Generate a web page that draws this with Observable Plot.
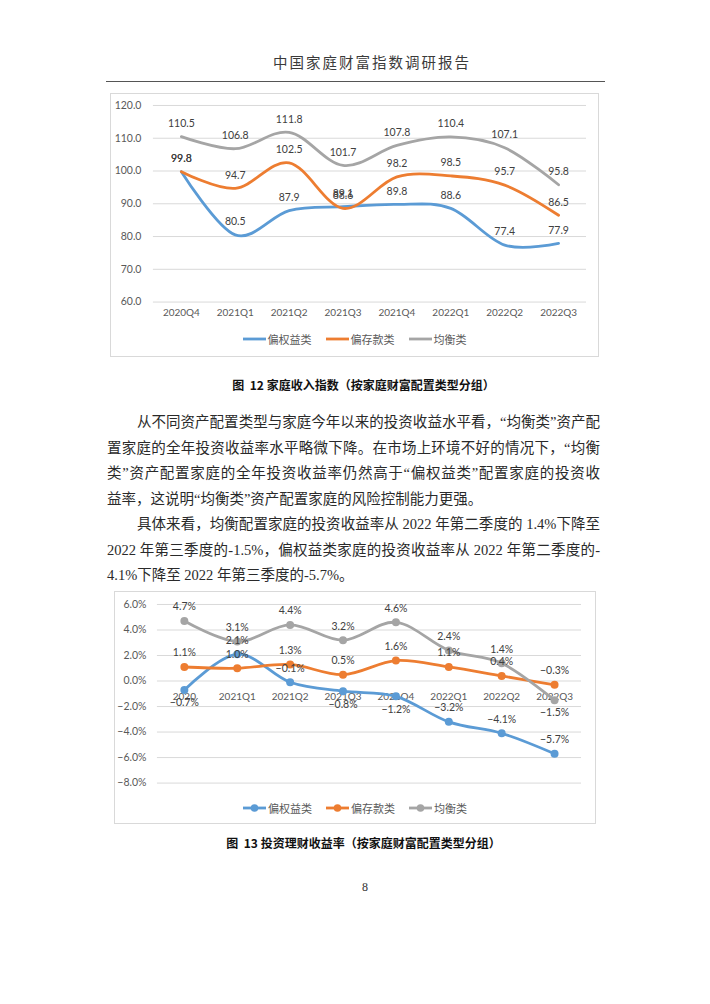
<!DOCTYPE html>
<html>
<head>
<meta charset="utf-8">
<script src="https://cdn.jsdelivr.net/npm/d3@7"></script>
<script src="https://cdn.jsdelivr.net/npm/@observablehq/plot@0.6"></script>
<style>
  html, body { margin: 0; padding: 0; background: #fff; }
  #page { position: relative; width: 710px; height: 1004px; background: #fff; overflow: hidden;
          font-family: "Noto Sans CJK SC", sans-serif; color: #222; }
  .header { position: absolute; left: 273px; top: 52px; font-size: 14.5px; letter-spacing: 2px;
            line-height: 20px; color: #3a3a3a; white-space: nowrap; }
  .rule { position: absolute; left: 106px; top: 81px; width: 499px; height: 0; border-top: 1.6px solid #555; }
  .box { position: absolute; box-sizing: border-box; border: 1px solid #d9d9d9; background: #fff; }
  .box .plot { position: absolute; left: -1px; top: -1px; }
  .legend { position: absolute; left: 0; right: 0; display: flex; justify-content: center; align-items: center;
            gap: 14px; font-size: 11px; color: #595959; line-height: 14px; }
  .legend .item { display: flex; align-items: center; gap: 2px; }
  .legend svg { display: block; }
  .caption { position: absolute; left: 0; width: 727px; text-align: center; font-size: 12px; font-weight: bold;
             color: #111; line-height: 16px; white-space: nowrap; }
  .body { position: absolute; left: 107px; top: 410px; width: 493px;
          font-family: "Liberation Serif", "Noto Sans CJK SC", serif; font-size: 14.5px; color: #2a2a2a; }
  .body div { height: 25.5px; line-height: 25.5px; white-space: nowrap; overflow: visible; }
  .body div.j { text-align: justify; text-align-last: justify; white-space: normal; }
  .body div.ind { text-indent: 30px; }
  .pageno { position: absolute; left: 0; width: 730px; top: 880px; text-align: center;
            font-family: "Liberation Serif", serif; font-size: 12px; color: #333; }
</style>
</head>
<body>
<div id="page">
  <div class="header">中国家庭财富指数调研报告</div>
  <div class="rule"></div>

  <div class="box" id="box1" style="left:110px; top:93px; width:489px; height:264px;">
    <div class="plot" id="chart1"></div>
    <div class="legend" id="legend1" style="top:238px;"></div>
  </div>
  <div class="caption" style="top:377px;">图&nbsp; 12 家庭收入指数（按家庭财富配置类型分组）</div>

  <div class="body">
    <div class="j ind">从不同资产配置类型与家庭今年以来的投资收益水平看，“均衡类”资产配</div>
    <div class="j">置家庭的全年投资收益率水平略微下降。在市场上环境不好的情况下，“均衡</div>
    <div class="j">类”资产配置家庭的全年投资收益率仍然高于“偏权益类”配置家庭的投资收</div>
    <div>益率，这说明“均衡类”资产配置家庭的风险控制能力更强。</div>
    <div class="j ind">具体来看，均衡配置家庭的投资收益率从 2022 年第二季度的 1.4%下降至</div>
    <div class="j">2022 年第三季度的-1.5%，偏权益类家庭的投资收益率从 2022 年第二季度的-</div>
    <div>4.1%下降至 2022 年第三季度的-5.7%。</div>
  </div>

  <div class="box" id="box2" style="left:114px; top:591px; width:482px; height:233px;">
    <div class="plot" id="chart2"></div>
    <div class="legend" id="legend2" style="top:209px;"></div>
  </div>
  <div class="caption" style="top:835px;">图&nbsp; 13 投资理财收益率（按家庭财富配置类型分组）</div>

  <div class="pageno">8</div>
</div>

<script>
// ---------- data ----------
const seriesNames = ["偏权益类", "偏存款类", "均衡类"];
const seriesColors = ["#5B9BD5", "#ED7D31", "#A5A5A5"];

// Figure 12: 家庭收入指数
const incomeQuarters = ["2020Q4", "2021Q1", "2021Q2", "2021Q3", "2021Q4", "2022Q1", "2022Q2", "2022Q3"];
const incomeEquity   = [99.8, 80.5, 87.9, 89.1, 89.8, 88.6, 77.4, 77.9];
const incomeDeposit  = [99.8, 94.7, 102.5, 88.6, 98.2, 98.5, 95.7, 86.5];
const incomeBalanced = [110.5, 106.8, 111.8, 101.7, 107.8, 110.4, 107.1, 95.8];
const incomeTicks    = [60, 70, 80, 90, 100, 110, 120];

// Figure 13: 投资理财收益率 (%)
const returnQuarters = ["2020", "2021Q1", "2021Q2", "2021Q3", "2021Q4", "2022Q1", "2022Q2", "2022Q3"];
const returnEquity   = [-0.7, 2.1, -0.1, -0.8, -1.2, -3.2, -4.1, -5.7];
const returnDeposit  = [1.1, 1.0, 1.3, 0.5, 1.6, 1.1, 0.4, -0.3];
const returnBalanced = [4.7, 3.1, 4.4, 3.2, 4.6, 2.4, 1.4, -1.5];
const returnTicks    = [-8, -6, -4, -2, 0, 2, 4, 6];

// ---------- helpers ----------
function rowsOf(cats, arrays) {
  return seriesNames.flatMap((s, k) => arrays[k].map((v, i) => ({s, q: cats[i], i, v})));
}
const chartFont = "Lato, 'Noto Sans CJK SC', sans-serif";
const colorScale = {domain: seriesNames, range: seriesColors};

// ---------- chart 1 ----------
const rows1 = rowsOf(incomeQuarters, [incomeEquity, incomeDeposit, incomeBalanced]);
const chart1 = Plot.plot({
  width: 489, height: 235,
  marginLeft: 43, marginRight: 12, marginTop: 12, marginBottom: 26,
  x: {type: "point", domain: incomeQuarters, padding: 0.5, axis: null},
  y: {domain: [60, 120], axis: null},
  color: colorScale,
  style: {fontFamily: chartFont, fontSize: "10px", color: "#595959", background: "none", overflow: "visible"},
  marks: [
    Plot.ruleY(incomeTicks, {stroke: "#d9d9d9", strokeWidth: 1}),
    Plot.axisY({ticks: incomeTicks, tickSize: 0, tickPadding: 12, tickFormat: d3.format(".1f"), label: null, fill: "#595959", fontSize: 10.5}),
    Plot.text(incomeQuarters, {x: d => d, frameAnchor: "bottom", dy: 14, fill: "#595959", fontSize: 10}),
    Plot.line(rows1, {x: "q", y: "v", stroke: "s", z: "s", curve: "cardinal", strokeWidth: 2.8}),
    Plot.text(rows1, {x: "q", y: "v", text: d => d3.format(".1f")(d.v), dy: -13, fill: "#404040", fontSize: 10.5})
  ]
});
document.getElementById("chart1").appendChild(chart1);

// ---------- chart 2 ----------
const rows2 = rowsOf(returnQuarters, [returnEquity, returnDeposit, returnBalanced]);
const labelsBelow = {"偏权益类": [0, 3, 4], "均衡类": [7]};
const isBelow = d => (labelsBelow[d.s] || []).includes(d.i);
const pct = d => d3.format(".1f")(d) + "%";
const chart2 = Plot.plot({
  width: 482, height: 205,
  marginLeft: 43, marginRight: 14, marginTop: 13, marginBottom: 13,
  x: {type: "point", domain: returnQuarters, padding: 0.5, axis: null},
  y: {domain: [-8, 6], axis: null},
  color: colorScale,
  style: {fontFamily: chartFont, fontSize: "10px", color: "#595959", background: "none", overflow: "visible"},
  marks: [
    Plot.ruleY(returnTicks, {stroke: "#d9d9d9", strokeWidth: 1}),
    Plot.axisY({ticks: returnTicks, tickSize: 0, tickPadding: 11, tickFormat: pct, label: null, fill: "#595959", fontSize: 10.5}),
    Plot.text(returnQuarters, {x: d => d, y: 0, dy: 16, fill: "#595959", fontSize: 10}),
    Plot.line(rows2, {x: "q", y: "v", stroke: "s", z: "s", curve: "cardinal", strokeWidth: 2.8}),
    Plot.dot(rows2, {x: "q", y: "v", fill: "s", r: 4}),
    Plot.text(rows2.filter(d => !isBelow(d)), {x: "q", y: "v", text: d => pct(d.v), dy: -14, fill: "#404040", fontSize: 10.5}),
    Plot.text(rows2.filter(isBelow), {x: "q", y: "v", text: d => pct(d.v), dy: 13, fill: "#404040", fontSize: 10.5})
  ]
});
document.getElementById("chart2").appendChild(chart2);

// ---------- legends ----------
function buildLegend(id, withDot) {
  const el = document.getElementById(id);
  seriesNames.forEach((name, k) => {
    const item = document.createElement("div");
    item.className = "item";
    const c = seriesColors[k];
    item.innerHTML =
      `<svg width="23" height="10"><line x1="0" x2="23" y1="5" y2="5" stroke="${c}" stroke-width="2.8"/>` +
      (withDot ? `<circle cx="11.5" cy="5" r="3.8" fill="${c}"/>` : "") +
      `</svg><span>${name}</span>`;
    el.appendChild(item);
  });
}
buildLegend("legend1", false);
buildLegend("legend2", true);
</script>
</body>
</html>
